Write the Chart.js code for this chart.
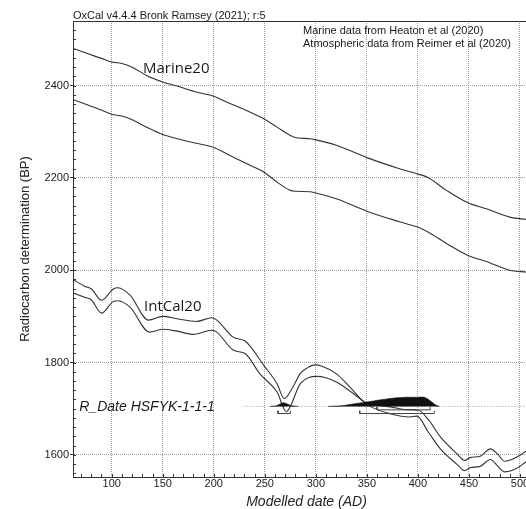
<!DOCTYPE html>
<html><head><meta charset="utf-8">
<script src="https://cdn.jsdelivr.net/npm/chart.js@4.4.1/dist/chart.umd.min.js"></script>
<style>
html,body{margin:0;padding:0;background:#fff;overflow:hidden;width:526px;height:509px}
canvas{display:block}
</style></head><body>
<canvas id="c" width="540" height="509" style="width:540px;height:509px"></canvas>
<script>
// ---- data ----
const X_TICKS = [100,150,200,250,300,350,400,450,500];
const Y_TICKS = [1600,1800,2000,2200,2400];
const MINOR_X = 10, MINOR_Y = 20;

const MARINE_YEARS = [62,74,90,100,110,120,135,150,164,183,200,213,232,249,262,275,281,294,299,320,350,382,399,409,428,449,467,490,506,520];
const MARINE_UPPER = [2481,2471,2459,2451,2448,2440,2421,2408,2399,2386,2377,2364,2346,2328,2310,2292,2287,2285,2283,2271,2244,2220,2209,2202,2173,2146,2133,2115,2110,2106];
const MARINE_LOWER = [2370,2360,2347,2338,2334,2326,2309,2294,2285,2275,2266,2252,2231,2213,2191,2173,2171,2170,2168,2155,2128,2105,2094,2084,2058,2032,2019,2000,1996,1993];

const INTCAL_UP_YEARS = [62,74,80,90,102,106,118,136,150,164,183,198,203,219,231,249,262,269,277,285,292,299,306,320,333,348,360,373,389,400,411,422,438,446,451,461,471,478,485,492,500,506,520];
const INTCAL_UPPER    = [1980,1965,1960,1935,1960,1962,1946,1892,1900,1895,1889,1897,1892,1855,1846,1794,1754,1722,1745,1777,1789,1795,1792,1776,1748,1714,1708,1704,1698,1697,1674,1639,1603,1588,1594,1597,1613,1602,1586,1590,1599,1608,1620];
const INTCAL_LO_YEARS = [62,74,80,90,102,106,118,137,150,164,180,198,203,219,231,245,262,271,285,301,320,343,353,373,392,399,410,422,438,446,451,461,471,478,485,492,500,506,520];
const INTCAL_LOWER    = [1951,1941,1936,1907,1933,1934,1920,1866,1872,1868,1861,1870,1866,1827,1819,1776,1736,1694,1755,1770,1758,1722,1705,1689,1682,1684,1650,1613,1580,1566,1572,1575,1590,1576,1563,1566,1575,1585,1597];

// posterior probability (relative) of R_Date HSFYK-1-1-1
const DIST1_YEARS = [255,259,262,265,268,271,274,277,280,283];
const DIST1_PROB  = [0,0.03,0.1,0.25,0.4,0.3,0.15,0.06,0.02,0];
const DIST2_YEARS = [312,320,327,333,340,347,353,359,365,371,377,383,389,395,401,406,409,412,415,418,421];
const DIST2_PROB  = [0,0.03,0.09,0.2,0.32,0.42,0.52,0.63,0.74,0.83,0.9,0.95,1.0,0.98,1.0,0.99,0.85,0.6,0.35,0.12,0];
const RANGE_68 = [[360,412]];
const RANGE_95 = [[263,275],[343,416]];
const R_PRIOR = [230,519.6];

// ---- drawing ----
const R_BASE = 1705, R_HEIGHT = 20;
const LVL68 = 1697.5, LVL95 = 1689.5, TICK_H = 6;
const FONT = '"Liberation Sans", Arial, sans-serif';
Chart.defaults.font.family = FONT;

const xy = (xs, ys) => xs.map((x,i) => ({x, y: ys[i]}));
const curve = (xs, ys) => ({data: xy(xs, ys), borderColor:'#333', borderWidth:1.1, pointRadius:0, fill:false, cubicInterpolationMode:'monotone'});
const dist = (xs, ps) => ({data: xs.map((x,i)=>({x, y: R_BASE + ps[i]*R_HEIGHT})), fill:{value:R_BASE}, backgroundColor:'#111', borderColor:'#111', borderWidth:0.6, pointRadius:0, tension:0.25});
const bracket = (r, lvl) => ({data:[{x:r[0],y:lvl+TICK_H},{x:r[0],y:lvl},{x:r[1],y:lvl},{x:r[1],y:lvl+TICK_H}], borderColor:'#444', borderWidth:1, pointRadius:0, fill:false, tension:0});

const datasets = [
  dist(DIST1_YEARS, DIST1_PROB),
  dist(DIST2_YEARS, DIST2_PROB),
  ...RANGE_68.map(r => bracket(r, LVL68)),
  ...RANGE_95.map(r => bracket(r, LVL95)),
  curve(MARINE_YEARS, MARINE_UPPER),
  curve(MARINE_YEARS, MARINE_LOWER),
  curve(INTCAL_UP_YEARS, INTCAL_UPPER),
  curve(INTCAL_LO_YEARS, INTCAL_LOWER),
  {data:[{x:R_PRIOR[0],y:R_BASE},{x:R_PRIOR[1],y:R_BASE}], borderColor:'#999', borderWidth:1, borderDash:[1,2], pointRadius:0, fill:false}
];

const decor = {
  id:'decor',
  beforeDatasetsDraw(chart){
    const {ctx, chartArea:a, scales:{x,y}} = chart;
    ctx.save();
    ctx.strokeStyle = '#333'; ctx.lineWidth = 1;
    ctx.beginPath();
    for (let v = Math.ceil(y.min/MINOR_Y)*MINOR_Y; v <= y.max; v += MINOR_Y) {
      const py = Math.round(y.getPixelForValue(v)) + 0.5;
      ctx.moveTo(a.left, py); ctx.lineTo(a.left + 3, py);
    }
    for (let v = Math.ceil(x.min/MINOR_X)*MINOR_X; v <= x.max; v += MINOR_X) {
      const px = Math.round(x.getPixelForValue(v)) + 0.5;
      ctx.moveTo(px, a.bottom); ctx.lineTo(px, a.bottom - 3);
    }
    ctx.moveTo(a.left, Math.round(a.top) + 0.5); ctx.lineTo(a.right, Math.round(a.top) + 0.5);
    ctx.stroke();
    ctx.restore();
  },
  afterDraw(chart){
    const {ctx, chartArea:a} = chart;
    ctx.save();
    ctx.fillStyle = '#1a1a1a';
    ctx.textBaseline = 'alphabetic'; ctx.textAlign = 'left';
    ctx.font = '11px ' + FONT;
    ctx.fillText('OxCal v4.4.4 Bronk Ramsey (2021); r:5', a.left, 19);
    ctx.fillText('Marine data from Heaton et al (2020)', 303, 34);
    ctx.fillText('Atmospheric data from Reimer et al (2020)', 303, 46.7);
    ctx.font = '15px "Open Sans", sans-serif';
    ctx.fillText('Marine20', 143, 72.5);
    ctx.fillText('IntCal20', 144, 310.5);
    ctx.font = 'italic 14px ' + FONT;
    ctx.fillText('R_Date HSFYK-1-1-1', 79.3, 410.7);
    ctx.restore();
  }
};

new Chart(document.getElementById('c'), {
  type:'line',
  data:{datasets},
  options:{
    responsive:false, animation:false, events:[],
    layout:{padding:{top:21, left:0, right:0, bottom:0}},
    plugins:{legend:{display:false}, tooltip:{enabled:false}},
    scales:{
      x:{type:'linear', min:62.1, max:519.6,
        afterBuildTicks: s => { s.ticks = X_TICKS.map(v => ({value:v})); },
        afterFit: s => { s.height = 32; },
        ticks:{font:{size:11}, color:'#222', padding:0, maxRotation:0, autoSkip:false, callback: v => String(v)},
        grid:{color:'#9a9a9a', drawTicks:false, lineWidth:1},
        border:{color:'#333', width:1, dash:[1,1]},
        title:{display:true, text:'Modelled date (AD)', color:'#222', font:{size:14, style:'italic', lineHeight:1}, padding:{top:0, bottom:0}}
      },
      y:{type:'linear', min:1552, max:2540,
        afterBuildTicks: s => { s.ticks = Y_TICKS.map(v => ({value:v})); },
        afterFit: s => { s.width = 73; },
        ticks:{font:{size:11}, color:'#222', padding:1, callback: v => String(v)},
        grid:{color:'#9a9a9a', tickColor:'#333', tickLength:3, lineWidth:1},
        border:{color:'#333', width:1, dash:[1,1]},
        title:{display:true, text:'Radiocarbon determination (BP)', color:'#222', font:{size:13}, padding:{top:17.2, bottom:0}}
      }
    }
  },
  plugins:[decor]
});
</script>
</body></html>
